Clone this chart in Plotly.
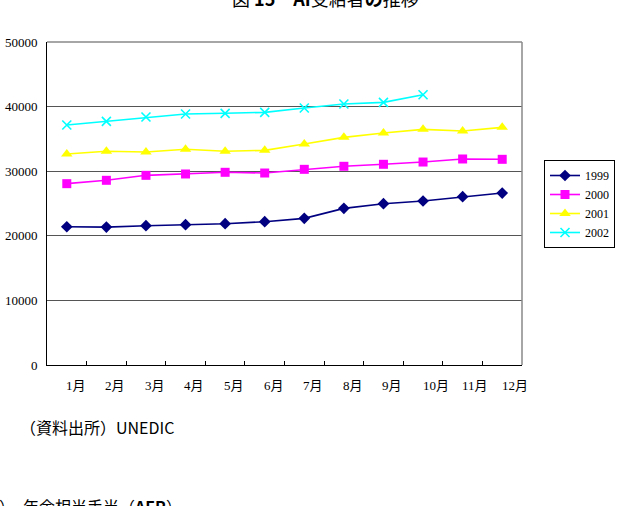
import plotly.graph_objects as go

months = ["1月", "2月", "3月", "4月", "5月", "6月", "7月", "8月", "9月", "10月", "11月", "12月"]
s1999 = [21400, 21350, 21560, 21720, 21870, 22180, 22700, 24250, 24970, 25390, 26050, 26620]
s2000 = [28070, 28590, 29360, 29570, 29830, 29720, 30290, 30760, 31070, 31420, 31890, 31840]
s2001 = [32660, 33080, 32970, 33390, 33080, 33230, 34210, 35240, 35910, 36480, 36220, 36790]
s2002 = [37150, 37720, 38390, 38850, 38960, 39110, 39780, 40400, 40660, 41840]
yticks = [0, 10000, 20000, 30000, 40000, 50000]

title_text = "図 <b>15</b>　<b>AI</b>受給者<b>の</b>推移"
source_text = "（資料出所）UNEDIC"
next_text = "）　年金相当手当（<b>AER</b>）"

SERIF = "'Liberation Serif', 'DejaVu Serif', 'Noto Sans CJK JP', serif"
SANS = "'Noto Sans CJK JP', 'Noto Sans', sans-serif"

xs = list(range(1, 13))

series = [
    ("1999", s1999, "#000080", dict(symbol="diamond", size=9)),
    ("2000", s2000, "#FF00FF", dict(symbol="square", size=9)),
    ("2001", s2001, "#FFFF00", dict(symbol="triangle-up", size=10)),
    ("2002", s2002, "#00FFFF", dict(symbol="x-thin", size=9, line=dict(width=1.6, color="#00FFFF"))),
]

fig = go.Figure()
for name, vals, col, mk in series:
    m = dict(color=col, **mk)
    if "line" not in mk:
        m["line"] = dict(width=0)
    fig.add_trace(go.Scatter(
        x=xs[:len(vals)], y=vals, name=name, mode="lines+markers",
        line=dict(color=col, width=1.6), marker=m,
    ))

fig.update_layout(
    width=625, height=506,
    margin=dict(l=47, r=103, t=42, b=141, autoexpand=False),
    paper_bgcolor="white", plot_bgcolor="white",
    showlegend=True,
    legend=dict(
        x=(544 - 47) / 475, y=(365 - 160) / 323, xanchor="left", yanchor="top",
        bordercolor="#000000", borderwidth=1,
        font=dict(family=SERIF, size=12, color="#000"),
        tracegroupgap=0, itemwidth=30,
    ),
    xaxis=dict(
        range=[0.5, 12.5], tickmode="array", tickvals=[i + 0.5 for i in xs],
        showticklabels=False, ticks="inside", ticklen=4, tickcolor="#000",
        showgrid=False, zeroline=False, showline=True, linecolor="#000", linewidth=1,
        automargin=False,
    ),
    yaxis=dict(
        range=[0, 50000], tickmode="array", tickvals=yticks,
        ticktext=[str(v) for v in yticks],
        tickfont=dict(family=SERIF, size=13, color="#000"),
        showgrid=True, gridcolor="#555555", gridwidth=1,
        zeroline=False, showline=True, linecolor="#000", linewidth=1,
        ticks="", ticklabelstandoff=6, automargin=False,
    ),
)

# grey border top/right
fig.add_shape(type="line", xref="paper", yref="paper", x0=0, x1=1, y0=1, y1=1,
              line=dict(color="#888888", width=1.5))
fig.add_shape(type="line", xref="paper", yref="paper", x0=1, x1=1, y0=0, y1=1,
              line=dict(color="#888888", width=1.5))

# month labels
for i, m in zip(xs, months):
    fig.add_annotation(
        x=i + 0.5, y=-0.065, xref="x", yref="paper", text=m, showarrow=False,
        xanchor="right", yanchor="middle", xshift=(1 if len(m) == 2 else 8),
        font=dict(family=SERIF, size=13, color="#000"),
    )

# title (partially cut at top, as in the source page)
fig.add_annotation(
    x=(325 - 47) / 475, xref="paper", y=(365 - 13) / 323, yref="paper", text=title_text,
    showarrow=False, xanchor="center", yanchor="bottom",
    font=dict(family=SANS, size=18, color="#000"),
)

# source note
fig.add_annotation(
    x=(18 - 47) / 475, xref="paper", y=(365 - 427) / 323, yref="paper",
    text=source_text, showarrow=False, xanchor="left", yanchor="middle",
    font=dict(family=SANS, size=16, color="#000"),
)

# next section heading, cut at bottom
fig.add_annotation(
    x=(-3 - 47) / 475, xref="paper", y=(365 - 492) / 323, yref="paper",
    text=next_text, showarrow=False, xanchor="left", yanchor="top",
    font=dict(family=SANS, size=16, color="#000"),
)

fig.write_html("out.html")
